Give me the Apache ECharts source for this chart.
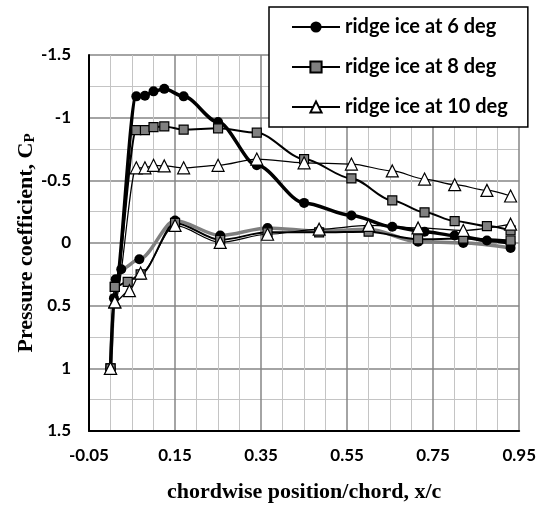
<!DOCTYPE html>
<html>
<head>
<meta charset="utf-8">
<script src="https://cdn.jsdelivr.net/npm/echarts@6/dist/echarts.min.js"></script>
<style>
  html, body { margin: 0; padding: 0; background: #fff; }
  #chart { width: 539px; height: 508px; }
</style>
</head>
<body>
<div id="chart"></div>
<script>
// upper surface taps (x/c) and Cp for each angle
const xUpper = [0.06, 0.08, 0.10, 0.125, 0.17, 0.25, 0.34, 0.45, 0.56, 0.655, 0.73, 0.80, 0.875, 0.93];
const cp6Upper = [-1.17, -1.175, -1.21, -1.23, -1.17, -0.965, -0.62, -0.32, -0.22, -0.13, -0.09, -0.06, -0.02, 0.0];
const cp8Upper = [-0.90, -0.90, -0.925, -0.93, -0.905, -0.915, -0.88, -0.67, -0.515, -0.34, -0.245, -0.175, -0.135, -0.10];
const cp10Upper = [-0.60, -0.60, -0.62, -0.615, -0.60, -0.62, -0.67, -0.64, -0.63, -0.575, -0.51, -0.465, -0.42, -0.375];

// lower surface taps
const xLower = [0.15, 0.255, 0.365, 0.485, 0.60, 0.715, 0.82, 0.93];
const cp6Lower = [-0.18, -0.06, -0.12, -0.095, -0.11, -0.01, 0.0, 0.04];
const cp8Lower = [-0.16, -0.025, -0.085, -0.085, -0.09, -0.03, -0.035, -0.02];
const cp10Lower = [-0.14, -0.005, -0.07, -0.11, -0.14, -0.12, -0.10, -0.15];

// leading edge points (stagnation + nose taps), [x/c, Cp]
const le6Upper = [[0, 1.0], [0.008, 0.44]];
const le6Lower = [[0, 1.0], [0.012, 0.29], [0.025, 0.21], [0.067, 0.13]];
const le8Upper = [[0, 1.0], [0.01, 0.35]];
const le8Lower = [[0, 1.0], [0.01, 0.35], [0.04, 0.31], [0.07, 0.25]];
const le10Upper = [[0, 1.0], [0.01, 0.47]];
const le10Lower = [[0, 1.0], [0.01, 0.47], [0.044, 0.38], [0.07, 0.24]];

const names = ['ridge ice at 6 deg', 'ridge ice at 8 deg', 'ridge ice at 10 deg'];

const pts = (le, xs, ys) => le.concat(xs.map((x, i) => [x, ys[i]]));

const styles = [
  { symbol: 'circle', symbolSize: 10, fill: '#000' },
  { symbol: 'rect', symbolSize: 9, fill: '#808080' },
  { symbol: 'triangle', symbolSize: 12, fill: '#fff' }
];

const mk = (name, data, st, lineColor, lineWidth) => ({
  name,
  type: 'line',
  data,
  smooth: 0.3,
  smoothMonotone: 'x',
  symbol: st.symbol,
  symbolSize: st.symbolSize,
  showAllSymbol: true,
  lineStyle: { color: lineColor, width: lineWidth },
  itemStyle: { color: st.fill, borderColor: '#000', borderWidth: st.symbol === 'circle' ? 0 : 1.2 },
  emphasis: { disabled: true },
  animation: false
});

const series = [
  mk('6 lower', pts(le6Lower, xLower, cp6Lower), styles[0], '#7f7f7f', 3.5),
  mk(names[0], pts(le6Upper, xUpper, cp6Upper), styles[0], '#000', 3.5),
  mk('8 lower', pts(le8Lower, xLower, cp8Lower), styles[1], '#000', 2),
  mk(names[1], pts(le8Upper, xUpper, cp8Upper), styles[1], '#000', 2),
  mk('10 lower', pts(le10Lower, xLower, cp10Lower), styles[2], '#000', 1.2),
  mk(names[2], pts(le10Upper, xUpper, cp10Upper), styles[2], '#000', 1.2)
];

const chart = echarts.init(document.getElementById('chart'));

chart.setOption({
  animation: false,
  grid: { left: 89, right: 15, top: 55, bottom: 75 },
  legend: {
    data: names,
    orient: 'vertical',
    left: 269,
    top: 7,
    padding: [10, 20, 10, 22],
    itemGap: 20,
    itemWidth: 48,
    itemHeight: 14,
    backgroundColor: '#fff',
    borderColor: '#000',
    borderWidth: 1.5,
    borderRadius: 0,
    selectedMode: false,
    textStyle: { fontFamily: 'Lato', fontWeight: 'bold', fontSize: 20, color: '#000' }
  },
  xAxis: {
    type: 'value',
    min: -0.05,
    max: 0.95,
    interval: 0.2,
    name: 'chordwise position/chord, x/c',
    nameLocation: 'middle',
    nameGap: 50,
    nameTextStyle: { fontFamily: 'Liberation Serif', fontWeight: 'bold', fontSize: 22, color: '#000' },
    axisLine: { onZero: false, lineStyle: { color: '#000', width: 2 } },
    axisTick: { show: false },
    axisLabel: {
      margin: 16,
      fontFamily: 'Lato', fontWeight: 'bold', fontSize: 17, color: '#000',
      formatter: v => v.toFixed(2)
    },
    splitLine: { lineStyle: { color: '#868686', width: 1.5 } },
    minorTick: { show: false, splitNumber: 4 },
    minorSplitLine: { show: true, lineStyle: { color: '#c4c4c4', width: 1 } }
  },
  yAxis: {
    type: 'value',
    inverse: true,
    min: -1.5,
    max: 1.5,
    interval: 0.5,
    axisLine: { show: true, onZero: false, lineStyle: { color: '#000', width: 2 } },
    axisTick: { show: false },
    axisLabel: { margin: 18, fontFamily: 'Lato', fontWeight: 'bold', fontSize: 17, color: '#000' },
    splitLine: { lineStyle: { color: '#868686', width: 1.5 } },
    minorTick: { show: false, splitNumber: 2 },
    minorSplitLine: { show: true, lineStyle: { color: '#c4c4c4', width: 1 } }
  },
  graphic: [{
    type: 'text',
    x: 26,
    y: 243,
    rotation: Math.PI / 2,
    style: {
      text: '{a|Pressure coefficient, C}{b|P}',
      align: 'center',
      verticalAlign: 'middle',
      rich: {
        a: { fontFamily: 'Liberation Serif', fontWeight: 'bold', fontSize: 22, fill: '#000' },
        b: { fontFamily: 'Liberation Serif', fontWeight: 'bold', fontSize: 15, fill: '#000', padding: [9, 0, 0, 0] }
      }
    }
  }],
  series
});
</script>
</body>
</html>
